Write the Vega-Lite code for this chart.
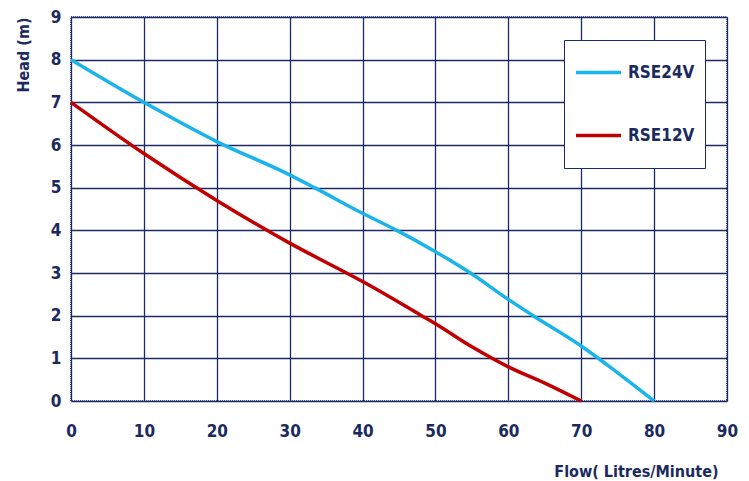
{
  "$schema": "https://vega.github.io/schema/vega-lite/v6.json",
  "width": 656,
  "height": 384,
  "autosize": {"type": "none"},
  "padding": {"left": 71, "top": 17, "right": 22, "bottom": 80},
  "background": "white",
  "data": {
    "values": [
      {"flow": 0, "head": 8.0, "model": "RSE24V"},
      {"flow": 10, "head": 7.0, "model": "RSE24V"},
      {"flow": 20, "head": 6.08, "model": "RSE24V"},
      {"flow": 30, "head": 5.3, "model": "RSE24V"},
      {"flow": 33.4, "head": 5.0, "model": "RSE24V"},
      {"flow": 40, "head": 4.4, "model": "RSE24V"},
      {"flow": 44.7, "head": 4.0, "model": "RSE24V"},
      {"flow": 50, "head": 3.5, "model": "RSE24V"},
      {"flow": 54.8, "head": 3.0, "model": "RSE24V"},
      {"flow": 60, "head": 2.38, "model": "RSE24V"},
      {"flow": 63.4, "head": 2.0, "model": "RSE24V"},
      {"flow": 70, "head": 1.29, "model": "RSE24V"},
      {"flow": 75, "head": 0.66, "model": "RSE24V"},
      {"flow": 80, "head": 0.0, "model": "RSE24V"},
      {"flow": 0, "head": 7.0, "model": "RSE12V"},
      {"flow": 10, "head": 5.8, "model": "RSE12V"},
      {"flow": 20, "head": 4.7, "model": "RSE12V"},
      {"flow": 30, "head": 3.7, "model": "RSE12V"},
      {"flow": 37.8, "head": 3.0, "model": "RSE12V"},
      {"flow": 40, "head": 2.8, "model": "RSE12V"},
      {"flow": 48.1, "head": 2.0, "model": "RSE12V"},
      {"flow": 50, "head": 1.81, "model": "RSE12V"},
      {"flow": 55, "head": 1.27, "model": "RSE12V"},
      {"flow": 60, "head": 0.8, "model": "RSE12V"},
      {"flow": 65, "head": 0.42, "model": "RSE12V"},
      {"flow": 70, "head": 0.0, "model": "RSE12V"}
    ]
  },
  "config": {
    "font": "'DejaVu Sans Condensed', Roboto, sans-serif",
    "view": {"stroke": "#1b2a63", "strokeWidth": 1.5, "strokeDash": [1, 1]},
    "axis": {
      "labelFont": "'DejaVu Sans Condensed', Roboto, sans-serif",
      "labelFontWeight": "bold",
      "labelFontSize": 17,
      "labelColor": "#1b2a5e",
      "titleFont": "'DejaVu Sans Condensed', Roboto, sans-serif",
      "titleFontWeight": "bold",
      "titleFontSize": 16,
      "titleColor": "#1b2a5e",
      "gridColor": "#1b2a63",
      "gridOpacity": 1,
      "gridWidth": 1.3,
      "domain": false,
      "ticks": false
    }
  },
  "mark": {"type": "line", "strokeWidth": 3.5, "interpolate": "monotone"},
  "encoding": {
    "x": {
      "field": "flow",
      "type": "quantitative",
      "scale": {"domain": [0, 90], "nice": false},
      "axis": {
        "values": [0, 10, 20, 30, 40, 50, 60, 70, 80, 90],
        "labelPadding": 22,
        "labelFlush": false,
        "title": "Flow( Litres/Minute)",
        "titleAnchor": "end",
        "titleAlign": "right",
        "titleX": 647,
        "titleY": 75,
        "titleBaseline": "alphabetic"
      }
    },
    "y": {
      "field": "head",
      "type": "quantitative",
      "scale": {"domain": [0, 9], "nice": false},
      "axis": {
        "values": [0, 1, 2, 3, 4, 5, 6, 7, 8, 9],
        "labelPadding": 10,
        "title": "Head (m)",
        "titleAnchor": "end",
        "titleX": -43,
        "titleY": 0,
        "titleAlign": "right",
        "titleBaseline": "alphabetic"
      }
    },
    "color": {
      "field": "model",
      "type": "nominal",
      "scale": {"domain": ["RSE24V", "RSE12V"], "range": ["#1ab4ea", "#c00000"]},
      "legend": {
        "title": null,
        "orient": "none",
        "legendX": 493,
        "legendY": 23,
        "symbolType": "stroke",
        "symbolSize": 2025,
        "symbolStrokeWidth": 3.5,
        "clipHeight": 45,
        "rowPadding": 18,
        "padding": 10,
        "labelOffset": 5,
        "labelFont": "'DejaVu Sans Condensed', Roboto, sans-serif",
        "labelFontWeight": "bold",
        "labelFontSize": 17,
        "labelColor": "#1b2a5e",
        "strokeColor": "#1b2a63",
        "fillColor": "white",
        "labelLimit": 200
      }
    }
  }
}
